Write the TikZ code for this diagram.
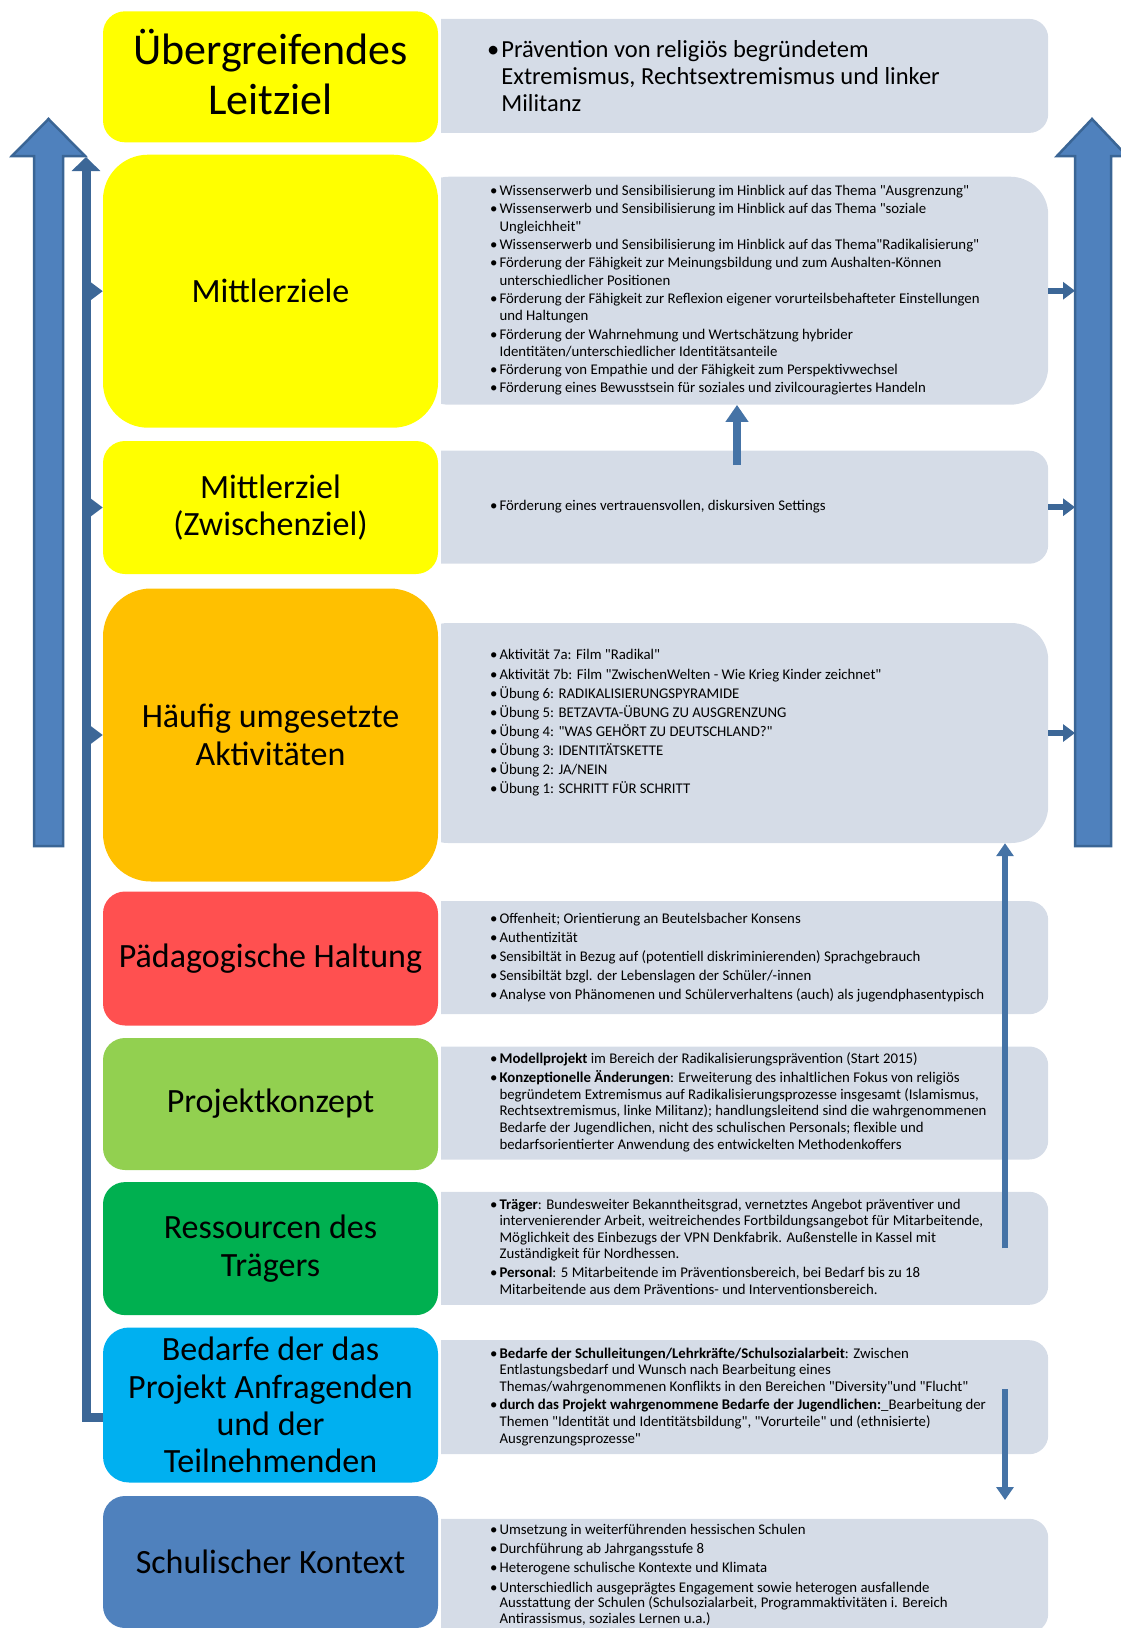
\documentclass[tikz,border=0pt]{standalone}
\usepackage{fontspec}
\setmainfont{Carlito}[Ligatures=TeXOff]
\usetikzlibrary{arrows.meta}

\definecolor{gelb}{HTML}{FFFF00}
\definecolor{orangegelb}{HTML}{FFC000}
\definecolor{rot}{HTML}{FF5050}
\definecolor{hellgruen}{HTML}{92D050}
\definecolor{gruen}{HTML}{00B050}
\definecolor{hellblau}{HTML}{00B0F0}
\definecolor{blau}{HTML}{4F81BD}
\definecolor{grau}{HTML}{D5DCE7}
\definecolor{pfeilrand}{HTML}{3A6595}
\definecolor{dunkel}{HTML}{3C6797}
\definecolor{mittel}{HTML}{4573A6}

\newcommand{\liste}[2]{\makebox[#1][l]{\begin{tabular}{@{}l@{\hspace{2pt}}l@{}}#2\end{tabular}}}

\tikzset{
  ziel/.style={minimum width=335pt, align=center, inner sep=0pt, font=\fontsize{34}{37.4}\selectfont},
  feld/.style={fill=grau, anchor=north west, minimum width=637pt, inner sep=0pt, font=\fontsize{14.8}{17.5}\selectfont},
  blockpfeil/.style={fill=blau, draw=pfeilrand, line width=2.5pt, line join=miter},
  stub/.style={draw=dunkel, line width=6pt, -{Triangle[length=12pt,width=17pt]}},
  stil/.style={draw=mittel, line width=7pt, -{Triangle[length=14pt,width=19pt]}},
}

\begin{document}
\begin{tikzpicture}[x=1pt, y=-1pt]
\useasboundingbox (0,0) rectangle (1120,1628);

\begin{scope}
\clip (441,0) rectangle (1130,1640);
\node[feld, minimum height=114pt, rounded corners=19pt, font=\fontsize{24.5}{27}\selectfont] (g1) at (411,18.7)
  {\liste{485pt}{\textbullet & \rule{0pt}{24.9pt}Prävention von religiös begründetem\\ & Extremismus, Rechtsextremismus und linker\\ & Militanz}};
\node[feld, minimum height=228pt, rounded corners=38pt] (g2) at (411,176.5)
  {\liste{479pt}{\textbullet & Wissenserwerb und Sensibilisierung  im Hinblick auf das Thema "Ausgrenzung"\\[0.7pt]
  \textbullet & Wissenserwerb und Sensibilisierung im Hinblick auf das Thema "soziale\\ & Ungleichheit"\\[0.7pt]
  \textbullet & Wissenserwerb und Sensibilisierung im Hinblick auf das Thema"Radikalisierung"\\[0.7pt]
  \textbullet & Förderung der Fähigkeit zur Meinungsbildung und zum Aushalten-Können\\ & unterschiedlicher Positionen\\[0.7pt]
  \textbullet & Förderung der Fähigkeit zur Reflexion eigener vorurteilsbehafteter Einstellungen\\ & und Haltungen\\[0.7pt]
  \textbullet & Förderung der Wahrnehmung und Wertschätzung hybrider\\ & Identitäten/unterschiedlicher Identitätsanteile\\[0.7pt]
  \textbullet & Förderung von Empathie und der Fähigkeit zum Perspektivwechsel\\[0.7pt]
  \textbullet & Förderung eines Bewusstsein für soziales und zivilcouragiertes Handeln}};
\node[feld, minimum height=113pt, rounded corners=19pt] (g3) at (411,450.5)
  {\liste{479pt}{\textbullet & Förderung eines vertrauensvollen, diskursiven Settings}};
\node[feld, minimum height=220pt, rounded corners=37pt, font=\fontsize{14.8}{19.1}\selectfont] (g4) at (411,622.8)
  {\liste{479pt}{\textbullet & Aktivität 7a:  Film "Radikal"\\
  \textbullet & Aktivität 7b: Film "ZwischenWelten - Wie Krieg Kinder zeichnet"\\
  \textbullet & Übung 6: RADIKALISIERUNGSPYRAMIDE\\
  \textbullet & Übung 5: BETZAVTA-ÜBUNG ZU AUSGRENZUNG\\
  \textbullet & Übung 4:  "WAS GEHÖRT ZU DEUTSCHLAND?"\\
  \textbullet & Übung 3: IDENTITÄTSKETTE\\
  \textbullet & Übung 2: JA/NEIN\\
  \textbullet & Übung 1: SCHRITT FÜR SCHRITT\\[20pt]}};
\node[feld, minimum height=113pt, rounded corners=19pt, font=\fontsize{14.8}{19.2}\selectfont] (g5) at (411,901)
  {\liste{479pt}{\textbullet & Offenheit; Orientierung an Beutelsbacher Konsens\\
  \textbullet & Authentizität\\
  \textbullet & Sensibiltät in Bezug auf (potentiell diskriminierenden) Sprachgebrauch\\
  \textbullet & Sensibiltät bzgl. der Lebenslagen der Schüler/-innen\\
  \textbullet & Analyse von Phänomenen und Schülerverhaltens (auch) als jugendphasentypisch}};
\node[feld, minimum height=113pt, rounded corners=19pt, font=\fontsize{14.8}{16.6}\selectfont] (g6) at (411,1046.3)
  {\liste{479pt}{\textbullet & \textbf{Modellprojekt} im Bereich der Radikalisierungsprävention (Start 2015)\\[2pt]
  \textbullet & \textbf{Konzeptionelle Änderungen}: Erweiterung des inhaltlichen Fokus von religiös\\
  & begründetem Extremismus auf Radikalisierungsprozesse insgesamt (Islamismus,\\
  & Rechtsextremismus, linke Militanz); handlungsleitend sind die wahrgenommenen\\
  & Bedarfe der Jugendlichen, nicht des schulischen Personals; flexible und\\
  & bedarfsorientierter Anwendung des entwickelten Methodenkoffers}};
\node[feld, minimum height=113pt, rounded corners=19pt, font=\fontsize{14.8}{16.6}\selectfont] (g7) at (411,1191.6)
  {\liste{479pt}{\textbullet & \textbf{Träger}: Bundesweiter Bekanntheitsgrad, vernetztes Angebot präventiver und\\
  & intervenierender Arbeit, weitreichendes Fortbildungsangebot für Mitarbeitende,\\
  & Möglichkeit des Einbezugs der VPN Denkfabrik. Außenstelle in Kassel mit\\
  & Zuständigkeit für Nordhessen.\\[2pt]
  \textbullet & \textbf{Personal}: 5 Mitarbeitende im Präventionsbereich, bei Bedarf bis zu 18\\
  & Mitarbeitende aus dem Präventions- und Interventionsbereich.}};
\node[feld, minimum height=114pt, rounded corners=19pt, font=\fontsize{14.8}{16.6}\selectfont] (g8) at (411,1340)
  {\liste{479pt}{\textbullet & \textbf{Bedarfe der Schulleitungen/Lehrkräfte/Schulsozialarbeit}: Zwischen\\
  & Entlastungsbedarf und Wunsch nach Bearbeitung eines\\
  & Themas/wahrgenommenen Konflikts in den Bereichen "Diversity"und "Flucht"\\[2pt]
  \textbullet & \textbf{durch das Projekt wahrgenommene Bedarfe der Jugendlichen:}\_Bearbeitung der\\
  & Themen "Identität und Identitätsbildung",  "Vorurteile" und (ethnisierte)\\
  & Ausgrenzungsprozesse"}};
\node[feld, minimum height=114pt, rounded corners=19pt, font=\fontsize{14.8}{15.6}\selectfont] (g9) at (411,1518.6)
  {\liste{479pt}{\textbullet & Umsetzung in weiterführenden hessischen Schulen\\[3.6pt]
  \textbullet & Durchführung ab Jahrgangsstufe 8\\[3.6pt]
  \textbullet & Heterogene schulische Kontexte und Klimata\\[3.6pt]
  \textbullet & Unterschiedlich ausgeprägtes Engagement sowie heterogen ausfallende\\
  & Ausstattung der Schulen (Schulsozialarbeit, Programmaktivitäten i. Bereich\\
  & Antirassismus, soziales Lernen u.a.)}};
\end{scope}

\node[ziel, fill=gelb, minimum height=131pt, rounded corners=22pt, font=\fontsize{44}{50}\selectfont] (c1) at (270.5,76.8) {Übergreifendes\\Leitziel\rule[-10pt]{0pt}{10pt}};
\node[ziel, fill=gelb, minimum height=273pt, rounded corners=45pt] (c2) at (270.5,291.2) {Mittlerziele};
\node[ziel, fill=gelb, minimum height=133pt, rounded corners=22pt] (c3) at (270.5,507.5) {Mittlerziel\\(Zwischenziel)};
\node[ziel, fill=orangegelb, minimum height=293pt, rounded corners=48pt] (c4) at (270.5,735) {Häufig umgesetzte\\Aktivitäten};
\node[ziel, fill=rot, minimum height=134pt, rounded corners=22pt] (c5) at (270.5,958.5) {Pädagogische Haltung};
\node[ziel, fill=hellgruen, minimum height=132pt, rounded corners=22pt] (c6) at (270.5,1104) {Projektkonzept};
\node[ziel, fill=gruen, minimum height=133pt, rounded corners=22pt] (c7) at (270.5,1248.6) {Ressourcen des\\Trägers};
\node[ziel, fill=hellblau, minimum height=155pt, rounded corners=26pt] (c8) at (270.5,1405) {Bedarfe der das\\Projekt Anfragenden\\und der\\Teilnehmenden};
\node[ziel, fill=blau, minimum height=132pt, rounded corners=22pt] (c9) at (270.5,1562) {Schulischer Kontext};

\draw[blockpfeil] (34,846) -- (34,156) -- (12,156) -- (48.5,119) -- (85,156) -- (63,156) -- (63,846) -- cycle;
\draw[blockpfeil] (1075,846) -- (1075,156) -- (1057,156) -- (1092,119) -- (1127,156) -- (1111,156) -- (1111,846) -- cycle;

\coordinate (ltop) at (86,157);
\coordinate (rs) at (1075,0);
\coordinate (rx) at (1005,0);
\coordinate (mx) at (737,0);

\draw[draw=dunkel, line width=9pt, line join=miter, -{Triangle[length=14pt,width=28pt]}] ([yshift=-12pt]c8.west) -| (ltop);
\foreach \n in {c2,c3,c4}
  \draw[stub] (\n.west -| ltop) -- (\n.west);
\foreach \n in {g2,g3,g4}
  \draw[stub] (\n.east) -- (\n.east -| rs);

\draw[stil, line width=8pt, -{Triangle[length=17pt,width=22pt]}, shorten <=-14.5pt] (mx |- g3.north) -- (mx |- g2.south);
\draw[stil, line width=6pt, -{Triangle[length=13pt,width=17pt]}] (rx |- g7.center) -- (rx |- g4.south);
\draw[stil, line width=6pt, -{Triangle[length=13pt,width=17pt]}, shorten <=-8pt, shorten >=18.6pt] (rx |- g8.center) -- (rx |- g9.north);
\end{tikzpicture}
\end{document}
